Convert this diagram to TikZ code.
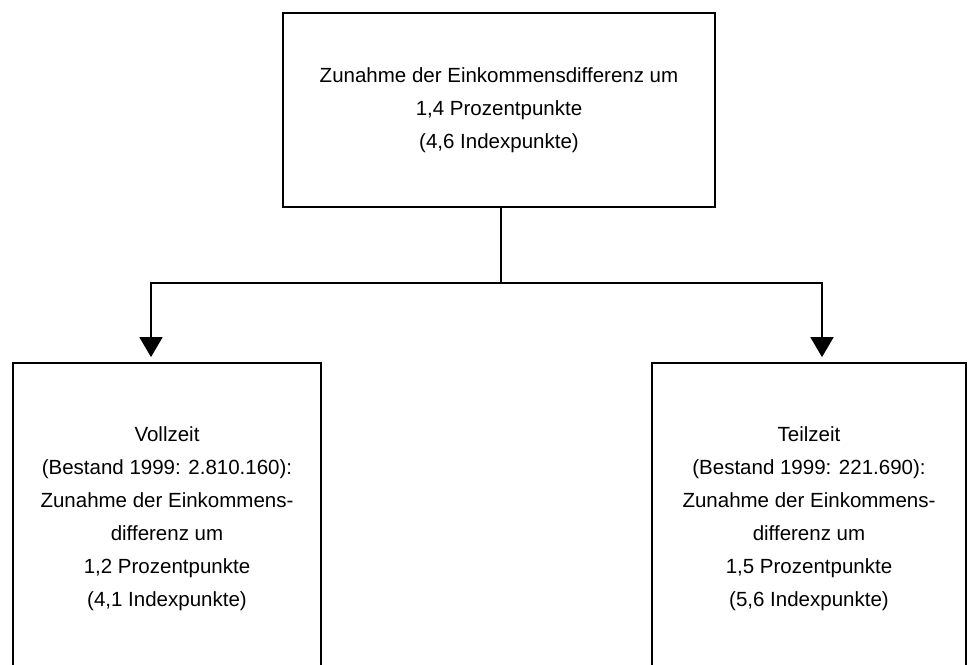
\documentclass[tikz,border=0pt]{standalone}
\usepackage{fontspec}
\setmainfont{Liberation Sans}
\usetikzlibrary{arrows.meta}

\begin{document}
\begin{tikzpicture}[x=1pt,y=-1pt,>={Triangle[width=23pt,length=20pt]}]
\tikzset{
	box/.style={draw,line width=1.8pt,rectangle,inner sep=0pt,align=center,
		font=\fontsize{20.5}{33}\selectfont},
	link/.style={line width=1.8pt}
}
\clip (0,0) rectangle (968,664);
\node[box,minimum width=432pt,minimum height=194pt](gesamt) at (499,110)
	{Zunahme der Einkommensdifferenz um\\1,4 Prozentpunkte\\(4,6 Indexpunkte)};
\node[box,minimum width=308pt,minimum height=311pt](voll) at (167,518.5)
	{Vollzeit\\(Bestand 1999: 2.810.160):\\Zunahme der Einkommens-\\differenz um\\
	 1,2 Prozentpunkte\\(4,1 Indexpunkte)};
\node[box,minimum width=314pt,minimum height=311pt](teil) at (809,518.5)
	{Teilzeit\\(Bestand 1999: 221.690):\\Zunahme der Einkommens-\\differenz um\\
	 1,5 Prozentpunkte\\(5,6 Indexpunkte)};
\coordinate (split) at ([xshift=2pt]gesamt.south |- 0,283);
\draw[link] ([xshift=2pt]gesamt.south) -- (split);
\draw[link,->,shorten >=5pt] (split) -| ([xshift=-16pt]voll.north);
\draw[link,->,shorten >=5pt] (split) -| ([xshift=13pt]teil.north);
\end{tikzpicture}
\end{document}
